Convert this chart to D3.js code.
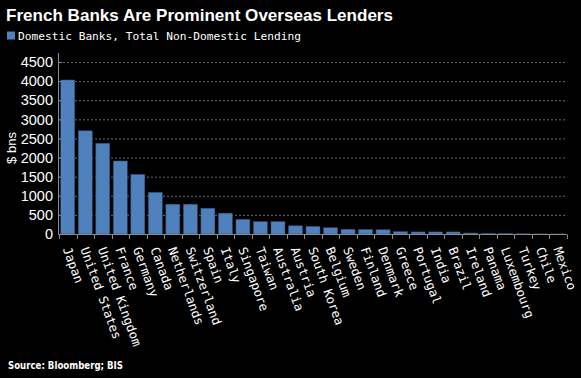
<!DOCTYPE html>
<html><head><meta charset="utf-8">
<script src="https://cdn.jsdelivr.net/npm/d3@7"></script>
<style>html,body{margin:0;padding:0;background:#000;}svg{display:block;}</style>
</head><body>
<script>
const countries = ["Japan","United States","United Kingdom","France","Germany","Canada","Netherlands","Switzerland","Spain","Italy","Singapore","Taiwan","Australia","Austria","South Korea","Belgium","Sweden","Finland","Denmark","Greece","Portugal","India","Brazil","Ireland","Panama","Luxembourg","Turkey","Chile","Mexico"];
const lending = [4030,2700,2375,1910,1560,1090,780,780,675,545,385,325,325,215,200,165,125,120,112,62,55,55,55,27,18,12,6,4,3];
const yTicks = [0,500,1000,1500,2000,2500,3000,3500,4000,4500];
const title = "French Banks Are Prominent Overseas Lenders";
const legendLabel = "Domestic Banks, Total Non-Domestic Lending";
const yLabel = "$ bns";
const source = "Source: Bloomberg; BIS";

const W = 581, H = 378;
const svg = d3.select("body").append("svg").attr("width", W).attr("height", H).style("background", "#000");

const x = d3.scaleBand().domain(countries).range([59, 567]).paddingInner(0.2).paddingOuter(0.1);
const y = d3.scaleLinear().domain([0, 4500]).range([234, 62]);

// title
svg.append("text").attr("x", 6).attr("y", 21).text(title)
  .attr("fill", "#fff").attr("font-family", "Liberation Sans, Arial, sans-serif")
  .attr("font-weight", "bold").attr("font-size", 16.5)
  .attr("textLength", 387).attr("lengthAdjust", "spacingAndGlyphs");

// legend
svg.append("rect").attr("x", 7).attr("y", 31.5).attr("width", 8).attr("height", 8).attr("fill", "#4f81bd");
svg.append("text").attr("x", 18).attr("y", 39.5).text(legendLabel)
  .attr("fill", "#fff").attr("font-family", "DejaVu Sans Mono, monospace").attr("font-size", 11.2)
  .attr("textLength", 283).attr("lengthAdjust", "spacingAndGlyphs");

// gridlines
svg.append("g").selectAll("line").data(yTicks.filter(d => d > 0)).join("line")
  .attr("x1", 59).attr("x2", 567).attr("y1", d => y(d) + 0.5).attr("y2", d => y(d) + 0.5)
  .attr("stroke", "#6a6a6a").attr("stroke-width", 1).attr("stroke-dasharray", "2,2");

// y tick labels
svg.append("g").selectAll("text").data(yTicks).join("text")
  .attr("x", 53).attr("y", d => y(d)).attr("dy", "0.36em").attr("text-anchor", "end")
  .attr("fill", "#fff").attr("font-family", "Liberation Sans, Arial, sans-serif").attr("font-size", 14.5)
  .text(d => d);

// y tick marks
svg.append("g").selectAll("line").data(yTicks).join("line")
  .attr("x1", 58).attr("x2", 62).attr("y1", d => y(d) + 0.5).attr("y2", d => y(d) + 0.5)
  .attr("stroke", "#8a8a8a");

// y axis label
svg.append("text").attr("transform", "translate(16,148) rotate(-90)").attr("text-anchor", "middle")
  .attr("fill", "#fff").attr("font-family", "Liberation Sans, Arial, sans-serif").attr("font-size", 13)
  .text(yLabel);

// bars
svg.append("g").selectAll("rect").data(countries).join("rect")
  .attr("x", d => x(d)).attr("width", x.bandwidth())
  .attr("y", (d, i) => y(lending[i])).attr("height", (d, i) => y(0) - y(lending[i]))
  .attr("fill", "#4f81bd").attr("stroke", "#2c4a6e").attr("stroke-width", 0.5);

// axes lines
svg.append("line").attr("x1", 58.5).attr("x2", 58.5).attr("y1", 53).attr("y2", 234.5).attr("stroke", "#8a8a8a");
svg.append("line").attr("x1", 58).attr("x2", 567).attr("y1", 234.5).attr("y2", 234.5).attr("stroke", "#8a8a8a");

// x ticks at band boundaries
const bounds = d3.range(countries.length + 1).map(i => x.range()[0] + i * x.step());
svg.append("g").selectAll("line").data(bounds).join("line")
  .attr("x1", d => Math.round(d) + 0.5).attr("x2", d => Math.round(d) + 0.5)
  .attr("y1", 234.5).attr("y2", 239).attr("stroke", "#8a8a8a");

// x labels
svg.append("g").selectAll("text").data(countries).join("text")
  .attr("transform", d => `translate(${x(d) + x.bandwidth() / 2 - 5},249) rotate(70)`)
  .attr("fill", "#fff").attr("font-family", "DejaVu Sans Mono, monospace").attr("font-size", 12.4)
  .text(d => d);

// source
svg.append("text").attr("x", 8).attr("y", 369).text(source)
  .attr("fill", "#fff").attr("font-family", "DejaVu Sans, sans-serif").attr("font-weight", "bold").attr("font-size", 10)
  .attr("textLength", 115).attr("lengthAdjust", "spacingAndGlyphs");
</script>
</body></html>
